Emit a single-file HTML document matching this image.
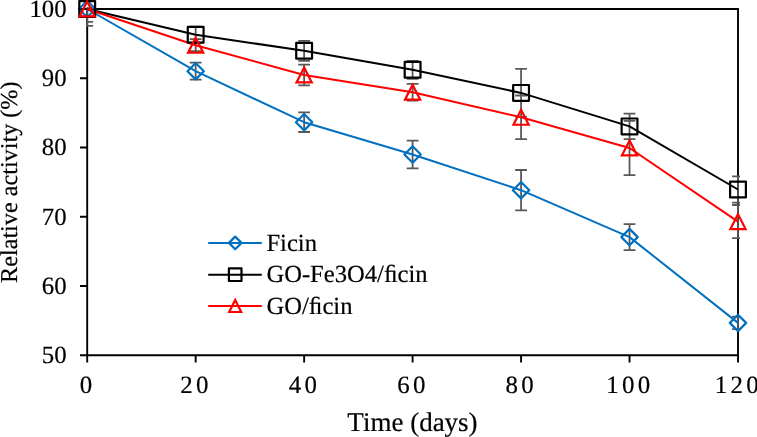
<!DOCTYPE html>
<html><head><meta charset="utf-8"><style>
html,body{margin:0;padding:0;background:#fff;}
svg{display:block;will-change:transform;}text{stroke:#000;stroke-width:0.2px;font-family:"Liberation Serif",serif;text-rendering:geometricPrecision;}
</style></head><body>
<svg width="757" height="437" viewBox="0 0 757 437">
<defs><clipPath id="pc"><rect x="86.60000000000001" y="7.0" width="653.4" height="350.25"/></clipPath></defs>
<path d="M87.2 9.0H738.0V355.25" stroke="#000" stroke-width="1.9" fill="none"/>
<path d="M87.2 8.0V355.25H739.0M80.0 355.25H87.2M80.0 286.00H87.2M80.0 216.75H87.2M80.0 147.50H87.2M80.0 78.25H87.2M80.0 9.00H87.2M87.20 355.25V362.6M195.67 355.25V362.6M304.13 355.25V362.6M412.60 355.25V362.6M521.07 355.25V362.6M629.53 355.25V362.6M738.00 355.25V362.6" stroke="#000" stroke-width="1.9" fill="none"/>
<path clip-path="url(#pc)" d="M87.20 -7.90V25.90M81.30 -7.90H93.10M81.30 25.90H93.10M195.67 62.70V79.70M189.77 62.70H201.57M189.77 79.70H201.57M304.13 112.40V132.00M298.23 112.40H310.03M298.23 132.00H310.03M412.60 140.70V168.30M406.70 140.70H418.50M406.70 168.30H418.50M521.07 170.00V210.40M515.17 170.00H526.97M515.17 210.40H526.97M629.53 224.10V250.10M623.63 224.10H635.43M623.63 250.10H635.43M738.00 316.70V329.10M732.10 316.70H743.90M732.10 329.10H743.90M87.20 -3.80V21.80M81.30 -3.80H93.10M81.30 21.80H93.10M195.67 26.75V42.75M189.77 26.75H201.57M189.77 42.75H201.57M304.13 40.80V60.80M298.23 40.80H310.03M298.23 60.80H310.03M412.60 60.80V78.80M406.70 60.80H418.50M406.70 78.80H418.50M521.07 68.90V116.90M515.17 68.90H526.97M515.17 116.90H526.97M629.53 113.60V139.20M623.63 113.60H635.43M623.63 139.20H635.43M738.00 176.40V202.60M732.10 176.40H743.90M732.10 202.60H743.90M87.20 8.20V9.80M81.30 8.20H93.10M81.30 9.80H93.10M195.67 39.20V51.20M189.77 39.20H201.57M189.77 51.20H201.57M304.13 64.60V85.40M298.23 64.60H310.03M298.23 85.40H310.03M412.60 83.80V100.60M406.70 83.80H418.50M406.70 100.60H418.50M521.07 95.50V139.10M515.17 95.50H526.97M515.17 139.10H526.97M629.53 120.80V175.20M623.63 120.80H635.43M623.63 175.20H635.43M738.00 205.00V238.20M732.10 205.00H743.90M732.10 238.20H743.90" stroke="#595959" stroke-width="1.8" fill="none"/>
<polyline points="87.20,9.00 195.67,71.20 304.13,122.20 412.60,154.50 521.07,190.20 629.53,237.10 738.00,322.90" stroke="#0070C0" stroke-width="2" fill="none" stroke-linejoin="round"/>
<polyline points="87.20,9.00 195.67,34.75 304.13,50.80 412.60,69.80 521.07,92.90 629.53,126.40 738.00,189.50" stroke="#000000" stroke-width="2" fill="none" stroke-linejoin="round"/>
<polyline points="87.20,9.00 195.67,45.20 304.13,75.00 412.60,92.20 521.07,117.30 629.53,148.00 738.00,221.60" stroke="#FF0000" stroke-width="2" fill="none" stroke-linejoin="round"/>
<path d="M87.20 0.80L95.40 9.00L87.20 17.20L79.00 9.00Z" stroke="#0070C0" stroke-width="2.2" fill="none" stroke-linejoin="round"/>
<path d="M195.67 63.00L203.87 71.20L195.67 79.40L187.47 71.20Z" stroke="#0070C0" stroke-width="2.2" fill="none" stroke-linejoin="round"/>
<path d="M304.13 114.00L312.33 122.20L304.13 130.40L295.93 122.20Z" stroke="#0070C0" stroke-width="2.2" fill="none" stroke-linejoin="round"/>
<path d="M412.60 146.30L420.80 154.50L412.60 162.70L404.40 154.50Z" stroke="#0070C0" stroke-width="2.2" fill="none" stroke-linejoin="round"/>
<path d="M521.07 182.00L529.27 190.20L521.07 198.40L512.87 190.20Z" stroke="#0070C0" stroke-width="2.2" fill="none" stroke-linejoin="round"/>
<path d="M629.53 228.90L637.73 237.10L629.53 245.30L621.33 237.10Z" stroke="#0070C0" stroke-width="2.2" fill="none" stroke-linejoin="round"/>
<path d="M738.00 314.70L746.20 322.90L738.00 331.10L729.80 322.90Z" stroke="#0070C0" stroke-width="2.2" fill="none" stroke-linejoin="round"/>
<rect x="79.30" y="1.10" width="15.80" height="15.80" stroke="#000000" stroke-width="2.2" fill="none" stroke-linejoin="round"/>
<rect x="187.77" y="26.85" width="15.80" height="15.80" stroke="#000000" stroke-width="2.2" fill="none" stroke-linejoin="round"/>
<rect x="296.23" y="42.90" width="15.80" height="15.80" stroke="#000000" stroke-width="2.2" fill="none" stroke-linejoin="round"/>
<rect x="404.70" y="61.90" width="15.80" height="15.80" stroke="#000000" stroke-width="2.2" fill="none" stroke-linejoin="round"/>
<rect x="513.17" y="85.00" width="15.80" height="15.80" stroke="#000000" stroke-width="2.2" fill="none" stroke-linejoin="round"/>
<rect x="621.63" y="118.50" width="15.80" height="15.80" stroke="#000000" stroke-width="2.2" fill="none" stroke-linejoin="round"/>
<rect x="730.10" y="181.60" width="15.80" height="15.80" stroke="#000000" stroke-width="2.2" fill="none" stroke-linejoin="round"/>
<path d="M87.20 1.55L94.80 16.45L79.60 16.45Z" stroke="#FF0000" stroke-width="2.2" fill="none" stroke-linejoin="miter"/>
<path d="M195.67 37.75L203.27 52.65L188.07 52.65Z" stroke="#FF0000" stroke-width="2.2" fill="none" stroke-linejoin="miter"/>
<path d="M304.13 67.55L311.73 82.45L296.53 82.45Z" stroke="#FF0000" stroke-width="2.2" fill="none" stroke-linejoin="miter"/>
<path d="M412.60 84.75L420.20 99.65L405.00 99.65Z" stroke="#FF0000" stroke-width="2.2" fill="none" stroke-linejoin="miter"/>
<path d="M521.07 109.85L528.67 124.75L513.47 124.75Z" stroke="#FF0000" stroke-width="2.2" fill="none" stroke-linejoin="miter"/>
<path d="M629.53 140.55L637.13 155.45L621.93 155.45Z" stroke="#FF0000" stroke-width="2.2" fill="none" stroke-linejoin="miter"/>
<path d="M738.00 214.15L745.60 229.05L730.40 229.05Z" stroke="#FF0000" stroke-width="2.2" fill="none" stroke-linejoin="miter"/>
<path d="M208.2 242.9H261.8" stroke="#0070C0" stroke-width="2" fill="none"/>
<path d="M235.20 236.60L241.50 242.90L235.20 249.20L228.90 242.90Z" stroke="#0070C0" stroke-width="2.2" fill="none" stroke-linejoin="round"/>
<text x="266.4" y="250.6" font-size="24.6">Ficin</text>
<path d="M208.2 274.7H261.8" stroke="#000000" stroke-width="2" fill="none"/>
<rect x="228.90" y="268.40" width="12.60" height="12.60" stroke="#000000" stroke-width="2.2" fill="none" stroke-linejoin="round"/>
<text x="266.4" y="282.3" font-size="24.6">GO-Fe3O4/&#xFB01;cin</text>
<path d="M208.2 306.0H261.8" stroke="#FF0000" stroke-width="2" fill="none"/>
<path d="M235.20 300.00L241.20 312.00L229.20 312.00Z" stroke="#FF0000" stroke-width="2.2" fill="none" stroke-linejoin="miter"/>
<text x="266.4" y="314.0" font-size="24.6">GO/&#xFB01;cin</text>
<text x="66.6" y="363.15" font-size="24.8" text-anchor="end">50</text>
<text x="66.6" y="293.90" font-size="24.8" text-anchor="end">60</text>
<text x="66.6" y="224.65" font-size="24.8" text-anchor="end">70</text>
<text x="66.6" y="155.40" font-size="24.8" text-anchor="end">80</text>
<text x="66.6" y="86.15" font-size="24.8" text-anchor="end">90</text>
<text x="66.6" y="16.90" font-size="24.8" text-anchor="end">100</text>
<text x="87.50" y="392.6" font-size="24.9" text-anchor="middle" letter-spacing="3.3">0</text>
<text x="195.97" y="392.6" font-size="24.9" text-anchor="middle" letter-spacing="3.3">20</text>
<text x="304.43" y="392.6" font-size="24.9" text-anchor="middle" letter-spacing="3.3">40</text>
<text x="412.90" y="392.6" font-size="24.9" text-anchor="middle" letter-spacing="3.3">60</text>
<text x="521.37" y="392.6" font-size="24.9" text-anchor="middle" letter-spacing="3.3">80</text>
<text x="629.83" y="392.6" font-size="24.9" text-anchor="middle" letter-spacing="3.3">100</text>
<text x="738.30" y="392.6" font-size="24.9" text-anchor="middle" letter-spacing="3.3">120</text>
<text x="412.5" y="431.2" font-size="27" text-anchor="middle">Time (days)</text>
<text transform="translate(17,182.2) rotate(-90)" font-size="24.2" text-anchor="middle">Relative activity (%)</text>
</svg>
</body></html>
